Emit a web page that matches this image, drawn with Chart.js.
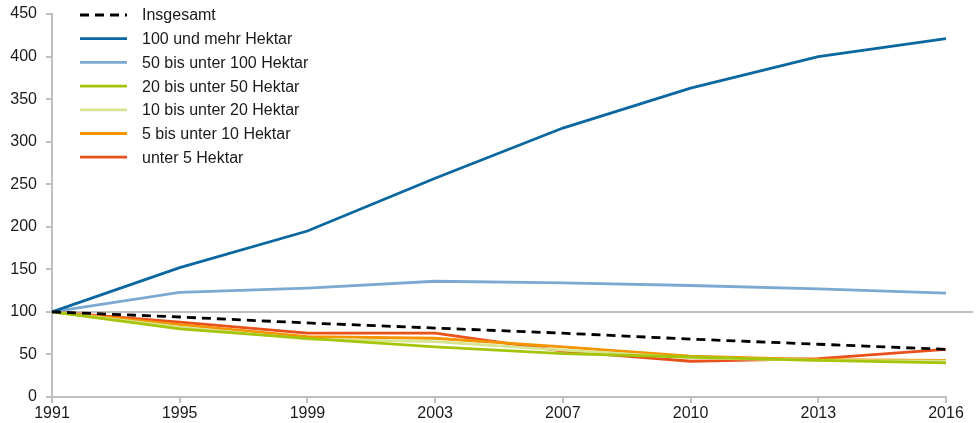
<!DOCTYPE html>
<html>
<head>
<meta charset="utf-8">
<script src="https://cdn.jsdelivr.net/npm/chart.js@4/dist/chart.umd.min.js"></script>
<style>
  html, body { margin: 0; padding: 0; background: #fff; }
  #wrap { width: 979px; height: 423px; position: relative; }
</style>
</head>
<body>
<div id="wrap"><canvas id="c"></canvas></div>
<script>
// Entwicklung der Betriebe nach Größenklassen (Index 1991 = 100)
const years = ['1991', '1995', '1999', '2003', '2007', '2010', '2013', '2016'];

const insgesamt   = [100, 94, 87, 81, 75, 68, 62, 56];
const ha100plus   = [100, 152, 195, 257, 316, 363, 400, 421];
const ha50bis100  = [100, 123, 128, 136, 134, 131, 127, 122];
const ha20bis50   = [100, 80, 69, 59, 51, 47, 43, 40];
const ha10bis20   = [100, 82, 68, 65, 55, 46, 43, 42];
const ha5bis10    = [100, 85, 71, 69, 59, 48, 44, 43];
const unter5      = [100, 88, 75, 75, 54, 42, 45, 56];

const yTicks = [0, 50, 100, 150, 200, 250, 300, 350, 400, 450];

const FONT = '"Liberation Sans", Arial, sans-serif';
const TEXT = '#1a1a1a';
const AXIS = '#bfbfbf';

function series(label, data, color, dash) {
  return {
    label, data,
    borderColor: color,
    backgroundColor: color,
    borderWidth: 2.8,
    borderDash: dash || [],
    pointRadius: 0,
    pointHoverRadius: 0,
    tension: 0,
    fill: false
  };
}

// Legende oben links, Linienmuster + Beschriftung
const legendPlugin = {
  id: 'topLegend',
  afterDraw(chart) {
    const ctx = chart.ctx;
    const x0 = 80, x1 = 127, tx = 142, y0 = 15, step = 23.7;
    ctx.save();
    ctx.font = '16px ' + FONT;
    ctx.fillStyle = TEXT;
    ctx.textBaseline = 'middle';
    chart.data.datasets.forEach((ds, i) => {
      const y = y0 + i * step;
      ctx.beginPath();
      ctx.strokeStyle = ds.borderColor;
      ctx.lineWidth = 2.8;
      ctx.setLineDash(ds.borderDash || []);
      ctx.moveTo(x0, y);
      ctx.lineTo(x1, y);
      ctx.stroke();
      ctx.setLineDash([]);
      ctx.fillText(ds.label, tx, y + 1);
    });
    ctx.restore();
  }
};

// Bezugslinie bei 100, reicht etwas über die Zeichenfläche hinaus
const refLinePlugin = {
  id: 'refLine',
  beforeDatasetsDraw(chart) {
    const y = chart.scales.y.getPixelForValue(100);
    const ctx = chart.ctx;
    ctx.save();
    ctx.strokeStyle = AXIS;
    ctx.lineWidth = 2;
    ctx.beginPath();
    ctx.moveTo(chart.chartArea.left, y);
    ctx.lineTo(chart.chartArea.right + 27, y);
    ctx.stroke();
    ctx.restore();
  }
};

new Chart(document.getElementById('c'), {
  type: 'line',
  data: {
    labels: years,
    datasets: [
      series('Insgesamt', insgesamt, '#000000', [9, 6]),
      series('100 und mehr Hektar', ha100plus, '#0b67a0'),
      series('50 bis unter 100 Hektar', ha50bis100, '#7ba9d1'),
      series('20 bis unter 50 Hektar', ha20bis50, '#a5c50c'),
      series('10 bis unter 20 Hektar', ha10bis20, '#d6e590'),
      series('5 bis unter 10 Hektar', ha5bis10, '#f39400'),
      series('unter 5 Hektar', unter5, '#e8501c')
    ]
  },
  options: {
    responsive: true,
    maintainAspectRatio: false,
    animation: false,
    layout: { padding: { top: 14, right: 33, left: 0, bottom: 0 } },
    plugins: {
      legend: { display: false },
      tooltip: { enabled: false }
    },
    scales: {
      x: {
        offset: false,
        grid: {
          display: true,
          drawOnChartArea: false,
          drawTicks: true,
          tickLength: 6,
          color: AXIS,
          lineWidth: 2
        },
        border: { display: true, color: AXIS, width: 2 },
        ticks: {
          font: { family: FONT, size: 16 },
          color: TEXT,
          padding: 1,
          maxRotation: 0,
          autoSkip: false
        },
        afterFit(scale) { scale.height = 26; }
      },
      y: {
        min: 0,
        max: 450,
        afterBuildTicks(scale) { scale.ticks = yTicks.map(v => ({ value: v })); },
        grid: {
          display: true,
          drawOnChartArea: false,
          drawTicks: true,
          tickLength: 6,
          color: AXIS,
          lineWidth: 2
        },
        border: { display: true, color: AXIS, width: 2 },
        ticks: {
          font: { family: FONT, size: 16 },
          color: TEXT,
          padding: 9
        },
        afterFit(scale) {
          scale.width = 52;
          scale.paddingTop = 0;
          scale.paddingBottom = 0;
        }
      }
    }
  },
  plugins: [refLinePlugin, legendPlugin]
});
</script>
</body>
</html>
